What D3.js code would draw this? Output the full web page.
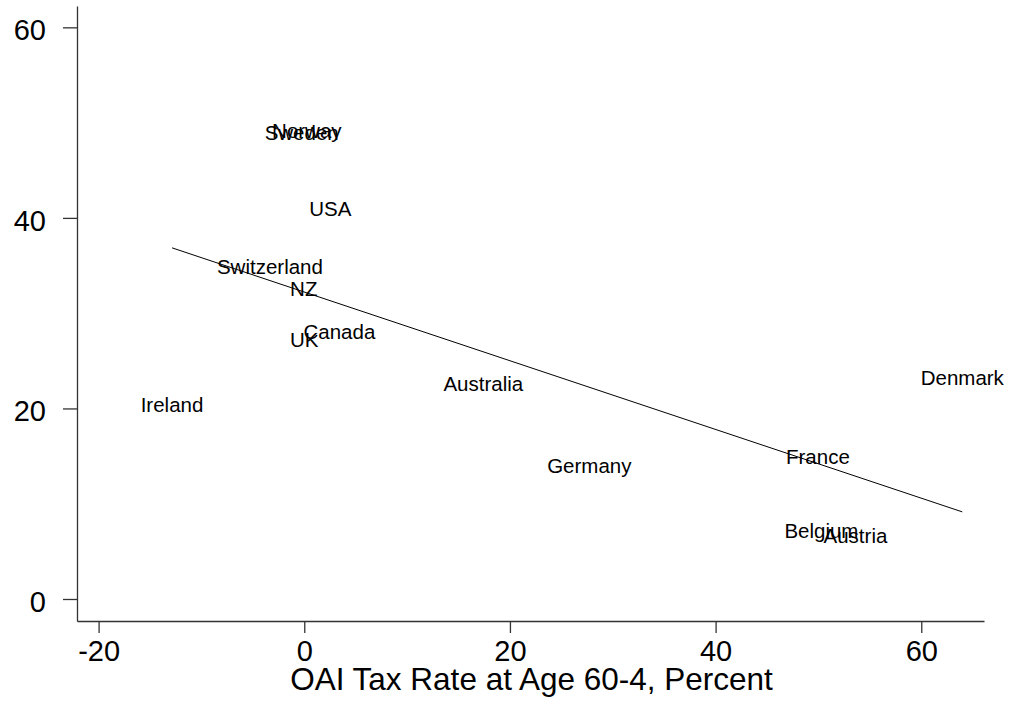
<!DOCTYPE html>
<html>
<head>
<meta charset="utf-8">
<script src="https://cdn.jsdelivr.net/npm/d3@7"></script>
<style>
  html, body { margin: 0; padding: 0; background: #fff; }
  svg { display: block; font-family: "Liberation Sans", Arial, Helvetica, sans-serif; }
</style>
</head>
<body>
<svg id="chart" width="1010" height="704"></svg>
<script>
// Country labels with OAI tax rate (x) and outcome value (y)
const countries = ["Sweden", "Norway", "USA", "Switzerland", "NZ", "Canada", "UK",
                   "Ireland", "Australia", "Germany", "France", "Belgium", "Austria", "Denmark"];
const taxRate = [-0.25, 0.25, 2.53, -3.34, -0.05, 3.42, 0.0,
                 -12.86, 17.41, 27.72, 49.95, 50.29, 53.6, 63.99];
const outcome = [48.17, 48.38, 40.18, 34.06, 31.78, 27.29, 26.5,
                 19.59, 21.83, 13.22, 14.17, 6.4, 5.88, 22.51];

const xTicks = [-20, 0, 20, 40, 60];
const yTicks = [0, 20, 40, 60];
const xTitle = "OAI Tax Rate at Age 60-4, Percent";

const svg = d3.select("#chart");

const x = d3.scaleLinear().domain([-22.1, 66.1]).range([77, 984]);
const y = d3.scaleLinear().domain([-2.31, 62.24]).range([621, 6]);

// Plain hyphen for negative tick labels
const fmt = d => String(d);

// Axes
const xAxis = svg.append("g")
  .attr("transform", `translate(0,${y.range()[0]})`)
  .call(d3.axisBottom(x).tickValues(xTicks).tickFormat(fmt)
        .tickSize(12).tickSizeOuter(0).tickPadding(7));

const yAxis = svg.append("g")
  .attr("transform", `translate(${x.range()[0]},0)`)
  .call(d3.axisLeft(y).tickValues(yTicks).tickFormat(fmt)
        .tickSize(14).tickSizeOuter(0).tickPadding(17));

[xAxis, yAxis].forEach(g => {
  g.select(".domain").attr("stroke", "#333").attr("stroke-width", 1.3);
  g.selectAll(".tick line").attr("stroke", "#333").attr("stroke-width", 1.3);
  g.selectAll(".tick text")
    .attr("fill", "#000")
    .style("font-size", "29px")
    .style("font-family", "'Liberation Sans', Arial, sans-serif");
});
yAxis.selectAll(".tick text").attr("dy", "0.43em");

// Axis title
svg.append("text")
  .attr("x", (x.range()[0] + x.range()[1]) / 2 + 1)
  .attr("y", 690)
  .attr("text-anchor", "middle")
  .style("font-size", "31.5px")
  .attr("fill", "#000")
  .text(xTitle);

// Least-squares fit line over the observed range
const pts = countries.map((c, i) => ({ name: c, tx: taxRate[i], v: outcome[i] }));
const mx = d3.mean(pts, d => d.tx);
const my = d3.mean(pts, d => d.v);
const slope = d3.sum(pts, d => (d.tx - mx) * (d.v - my)) / d3.sum(pts, d => (d.tx - mx) ** 2);
const intercept = my - slope * mx;
const [xmin, xmax] = d3.extent(taxRate);

svg.append("path")
  .datum([xmin, xmax])
  .attr("d", d3.line().x(d => x(d)).y(d => y(intercept + slope * d)))
  .attr("fill", "none")
  .attr("stroke", "#000")
  .attr("stroke-width", 1);

// Marker labels in place of symbols
svg.append("g")
  .selectAll("text")
  .data(pts)
  .join("text")
  .attr("x", d => x(d.tx))
  .attr("y", d => y(d.v))
  .attr("text-anchor", "middle")
  .style("font-size", "20.5px")
  .attr("fill", "#000")
  .text(d => d.name);
</script>
</body>
</html>
